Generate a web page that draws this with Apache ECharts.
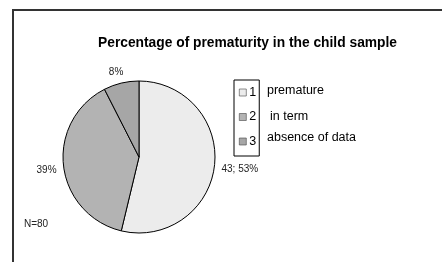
<!DOCTYPE html>
<html>
<head>
<meta charset="UTF-8">
<title>Percentage of prematurity</title>
<style>
  body, html {margin:0; padding:0; background:#fff;}
  #chart {width:442px; height:262px;}
</style>
<script src="https://cdn.jsdelivr.net/npm/echarts@6/dist/echarts.min.js"></script>
</head>
<body>
<div id="chart"></div>
<script>
// data (N = 80)
var codes = ['1', '2', '3'];
var groups = ['premature', 'in term', 'absence of data'];
var counts = [43, 31, 6];
var labels = ['43; 53%', '39%', '8%'];
var colors = ['#ececec', '#b3b3b3', '#a6a6a6'];

var chart = echarts.init(document.getElementById('chart'));

var pieData = codes.map(function (c, i) {
    return {
        name: c,
        value: counts[i],
        itemStyle: {color: colors[i]},
        label: {formatter: labels[i]}
    };
});

// nudges so the slice labels sit where the original put them
var labelShift = [[-2, 3], [2, 4], [8, -7]];

// descriptive names next to legend box
var groupTexts = groups.map(function (g, i) {
    var pos = [[267, 84], [270, 110], [267, 131]][i];
    return {
        type: 'text', left: pos[0], top: pos[1],
        style: {text: g, font: '12.5px "Liberation Sans", Arial', fill: '#000'}
    };
});

chart.setOption({
    animation: false,
    textStyle: {fontFamily: '"Liberation Sans", Arial, sans-serif'},
    title: {
        text: 'Percentage of prematurity in the child sample',
        left: 93, top: 31,
        textStyle: {fontSize: 13.8, fontWeight: 'bold', color: '#000'}
    },
    legend: {
        orient: 'vertical',
        left: 234, top: 80,
        padding: [6, 3, 8, 5],
        itemWidth: 7, itemHeight: 7,
        itemGap: 11.5,
        icon: 'rect',
        itemStyle: {borderColor: '#444', borderWidth: 0.6},
        borderColor: '#000', borderWidth: 1,
        textStyle: {fontSize: 12.5, color: '#000', padding: [0, 0, 0, -2], lineHeight: 12},
        data: codes
    },
    series: [{
        type: 'pie',
        center: [139, 157],
        radius: 76,
        startAngle: 90,
        clockwise: true,
        silent: true,
        itemStyle: {borderColor: '#000', borderWidth: 1},
        label: {show: true, position: 'outside', fontSize: 10, color: '#222'},
        labelLine: {show: false, length: 4, length2: 0},
        labelLayout: function (p) {
            var s = labelShift[p.dataIndex];
            return {dx: s[0], dy: s[1]};
        },
        data: pieData
    }],
    graphic: [
        {type: 'polyline', shape: {points: [[13, 262], [13, 10], [442, 10]]},
         style: {stroke: '#333', lineWidth: 2, fill: null}},
        {type: 'text', left: 24, top: 219,
         style: {text: 'N=80', font: '10px "Liberation Sans", Arial', fill: '#222'}}
    ].concat(groupTexts)
});
</script>
</body>
</html>
